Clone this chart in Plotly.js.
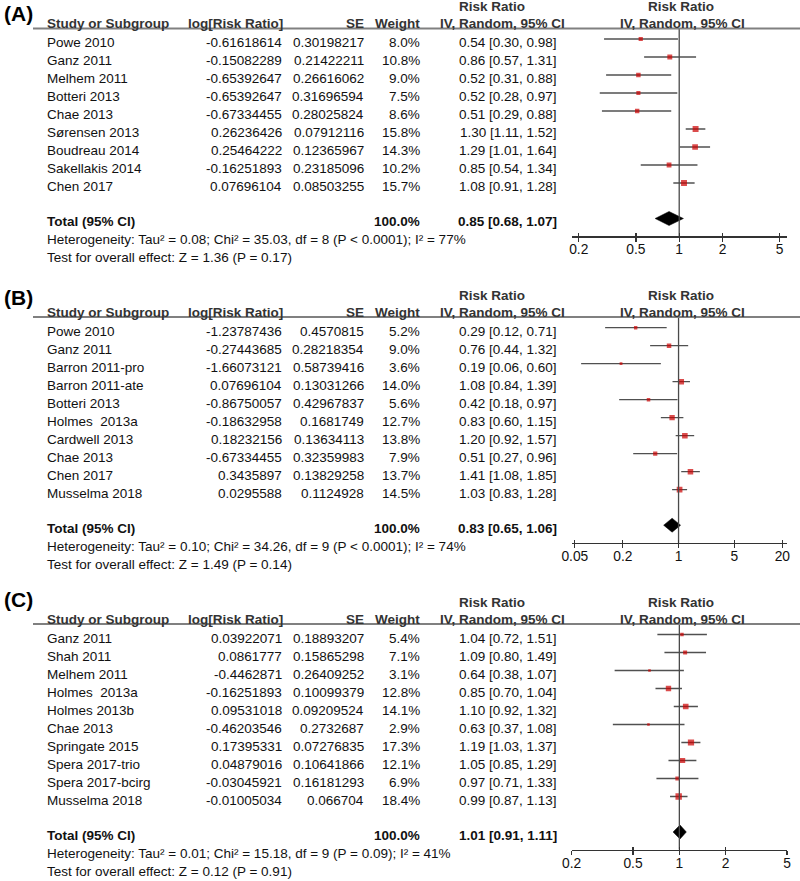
<!DOCTYPE html>
<html><head><meta charset="utf-8">
<script src="https://cdn.plot.ly/plotly-3.0.1.min.js"></script>
<style>html,body{margin:0;padding:0;background:#fff}#chart{width:800px;height:881px}</style>
</head><body><div id="chart"></div>
<script>
// ---------------- DATA ----------------
const panelLabels = ["(A)", "(B)", "(C)"];
const colHeaders = ["Study or Subgroup", "log[Risk Ratio]", "SE", "Weight", "Risk Ratio", "IV, Random, 95% CI"];
const totalLabel = "Total (95% CI)";
const totalWeight = "100.0%";

// Panel A
const studiesA = ["Powe 2010","Ganz 2011","Melhem 2011","Botteri 2013","Chae 2013","Sørensen 2013","Boudreau 2014","Sakellakis 2014","Chen 2017"];
const logRRA = [-0.61618614,-0.15082289,-0.65392647,-0.65392647,-0.67334455,0.26236426,0.25464222,-0.16251893,0.07696104];
const seA = [0.30198217,0.21422211,0.26616062,0.31696594,0.28025824,0.07912116,0.12365967,0.23185096,0.08503255];
const weightA = [8.0,10.8,9.0,7.5,8.6,15.8,14.3,10.2,15.7];
const rrA = [0.54,0.86,0.52,0.52,0.51,1.30,1.29,0.85,1.08];
const loA = [0.30,0.57,0.31,0.28,0.29,1.11,1.01,0.54,0.91];
const hiA = [0.98,1.31,0.88,0.97,0.88,1.52,1.64,1.34,1.28];
const totalA = [0.85,0.68,1.07];
const hetA = "Heterogeneity: Tau² = 0.08; Chi² = 35.03, df = 8 (P &lt; 0.0001); I² = 77%";
const testA = "Test for overall effect: Z = 1.36 (P = 0.17)";
const ticksA = [0.2,0.5,1,2,5];

// Panel B
const studiesB = ["Powe 2010","Ganz 2011","Barron 2011-pro","Barron 2011-ate","Botteri 2013","Holmes\u00a0 2013a","Cardwell 2013","Chae 2013","Chen 2017","Musselma 2018"];
const logRRB = [-1.23787436,-0.27443685,-1.66073121,0.07696104,-0.86750057,-0.18632958,0.18232156,-0.67334455,0.3435897,0.0295588];
const seB = [0.4570815,0.28218354,0.58739416,0.13031266,0.42967837,0.1681749,0.13634113,0.32359983,0.13829258,0.1124928];
const weightB = [5.2,9.0,3.6,14.0,5.6,12.7,13.8,7.9,13.7,14.5];
const rrB = [0.29,0.76,0.19,1.08,0.42,0.83,1.20,0.51,1.41,1.03];
const loB = [0.12,0.44,0.06,0.84,0.18,0.60,0.92,0.27,1.08,0.83];
const hiB = [0.71,1.32,0.60,1.39,0.97,1.15,1.57,0.96,1.85,1.28];
const totalB = [0.83,0.65,1.06];
const hetB = "Heterogeneity: Tau² = 0.10; Chi² = 34.26, df = 9 (P &lt; 0.0001); I² = 74%";
const testB = "Test for overall effect: Z = 1.49 (P = 0.14)";
const ticksB = [0.05,0.2,1,5,20];

// Panel C
const studiesC = ["Ganz 2011","Shah 2011","Melhem 2011","Holmes\u00a0 2013a","Holmes 2013b","Chae 2013","Springate 2015","Spera 2017-trio","Spera 2017-bcirg","Musselma 2018"];
const logRRC = [0.03922071,0.0861777,-0.4462871,-0.16251893,0.09531018,-0.46203546,0.17395331,0.04879016,-0.03045921,-0.01005034];
const seC = [0.18893207,0.15865298,0.26409252,0.10099379,0.09209524,0.2732687,0.07276835,0.10641866,0.16181293,0.066704];
const weightC = [5.4,7.1,3.1,12.8,14.1,2.9,17.3,12.1,6.9,18.4];
const rrC = [1.04,1.09,0.64,0.85,1.10,0.63,1.19,1.05,0.97,0.99];
const loC = [0.72,0.80,0.38,0.70,0.92,0.37,1.03,0.85,0.71,0.87];
const hiC = [1.51,1.49,1.07,1.04,1.32,1.08,1.37,1.29,1.33,1.13];
const totalC = [1.01,0.91,1.11];
const hetC = "Heterogeneity: Tau² = 0.01; Chi² = 15.18, df = 9 (P = 0.09); I² = 41%";
const testC = "Test for overall effect: Z = 0.12 (P = 0.91)";
const ticksC = [0.2,0.5,1,2,5];

// ---------------- LAYOUT CONFIG (positions in page pixels) ----------------
const W = 800, H = 881;
const STEP = 18;
const layoutCfg = [
  {row0: 39,    label: 14,  range: [-0.748, 0.75]},
  {row0: 327.7, label: 297, range: [-1.34, 1.36]},
  {row0: 634.5, label: 599, range: [-0.699, 0.699]}
];
const colX = {name: 45, log: 283.5, se: 365.5, weight: 422, ci: 559, ciHeadTop: 492, ciHead: 502.5, plotHeadTop: 680.5, plotHead: 682};
const plotX = [571.7, 787];
const FONT = "Liberation Sans, Arial, Helvetica, sans-serif";
const FS = 13.5;

const panels = [
  {studies: studiesA, logrr: logRRA, se: seA, w: weightA, rr: rrA, lo: loA, hi: hiA, total: totalA, het: hetA, test: testA, ticks: ticksA},
  {studies: studiesB, logrr: logRRB, se: seB, w: weightB, rr: rrB, lo: loB, hi: hiB, total: totalB, het: hetB, test: testB, ticks: ticksB},
  {studies: studiesC, logrr: logRRC, se: seC, w: weightC, rr: rrC, lo: loC, hi: hiC, total: totalC, het: hetC, test: testC, ticks: ticksC}
];

const fmtCI = (e, l, h) => e.toFixed(2) + " [" + l.toFixed(2) + ", " + h.toFixed(2) + "]";
const py = px => 1 - px / H;

const traces = [], annotations = [], shapes = [];
const layout = {
  width: W, height: H, margin: {l: 0, r: 0, t: 0, b: 0},
  paper_bgcolor: "#fff", plot_bgcolor: "rgba(0,0,0,0)",
  showlegend: false, font: {family: FONT, size: FS, color: "#111"},
  annotations: annotations, shapes: shapes
};

panels.forEach((p, k) => {
  const cfg = layoutCfg[k];
  const n = p.studies.length;
  const sfx = k === 0 ? "" : String(k + 1);
  const xa = "x" + sfx, ya = "y" + sfx;
  const ova = "x" + String(k + 4);
  const underline = cfg.row0 - 10.6;
  const axisY = cfg.row0 + STEP * n + 35.3;
  const rowY = i => cfg.row0 + STEP * i;
  const txtOff = 3.7;
  const totalTxt = cfg.row0 + STEP * n + 20.5;
  const diamondY = cfg.row0 + STEP * n + 17.5;
  const headY = cfg.row0 - 15.5;
  const headTopY = cfg.row0 - 32.3;

  layout["yaxis" + sfx] = {
    domain: [py(axisY), py(underline)], range: [axisY, underline],
    visible: false, fixedrange: true, anchor: xa
  };
  layout["xaxis" + sfx] = {
    type: "log", domain: [plotX[0] / W, plotX[1] / W], range: cfg.range, anchor: ya,
    showgrid: false, zeroline: false, showline: true, linecolor: "#333", linewidth: 1.3,
    ticks: "outside", ticklen: 4, tickwidth: 1.3, tickcolor: "#333",
    tickvals: p.ticks, ticktext: p.ticks.map(String), ticklabelstandoff: -4,
    tickfont: {family: FONT, size: 13.8, color: "#111"}, fixedrange: true
  };
  layout["xaxis" + String(k + 4)] = {
    type: "log", overlaying: xa, matches: xa, anchor: ya, range: cfg.range,
    showgrid: false, zeroline: false, showline: false,
    ticks: "inside", ticklen: 3, tickwidth: 1.3, tickcolor: "#333",
    tickvals: p.ticks, showticklabels: false, fixedrange: true
  };

  // null line at RR = 1
  traces.push({x: [1, 1], y: [underline, axisY], xaxis: ova, yaxis: ya, mode: "lines",
    line: {color: "#4a4a4a", width: 1.3}, hoverinfo: "skip"});

  // CI whiskers
  const cx = [], cy = [];
  p.lo.forEach((l, i) => { cx.push(l, p.hi[i], null); cy.push(rowY(i), rowY(i), null); });
  traces.push({x: cx, y: cy, xaxis: xa, yaxis: ya, mode: "lines",
    line: {color: "#505050", width: 1.3}, hoverinfo: "skip"});

  // study squares, area proportional to weight
  traces.push({x: p.rr, y: p.rr.map((_, i) => rowY(i)), xaxis: xa, yaxis: ya, mode: "markers",
    marker: {symbol: "square", color: "#cc0000", size: p.w.map(v => 1.5 * Math.sqrt(v)), line: {width: 0}},
    hoverinfo: "skip"});

  // pooled diamond
  const [te, tl, th] = p.total;
  const dh = 7;
  traces.push({x: [tl, te, th, te, tl], y: [diamondY, diamondY - dh, diamondY, diamondY + dh, diamondY],
    xaxis: xa, yaxis: ya, mode: "lines", fill: "toself", fillcolor: "#000",
    line: {color: "#000", width: 0.5}, hoverinfo: "skip"});

  // header underline
  shapes.push({type: "line", xref: "paper", yref: "paper", x0: 33 / W, x1: 1, y0: py(underline), y1: py(underline),
    line: {color: "#808080", width: 2}});

  const ann = (text, x, ypx, anchor, opts) => annotations.push(Object.assign({
    text: text, x: x / W, y: py(ypx), xref: "paper", yref: "paper", xanchor: anchor, yanchor: "middle",
    showarrow: false, font: {family: FONT, size: FS, color: "#111"}
  }, opts || {}));
  const hfont = {family: FONT, size: FS, color: "#333"};

  // panel label
  ann("<b>" + panelLabels[k] + "</b>", 2, cfg.label, "left", {font: {family: FONT, size: 21, color: "#000"}});

  // headers
  ann("<b>" + colHeaders[0] + "</b>", colX.name, headY, "left", {font: hfont});
  ann("<b>" + colHeaders[1] + "</b>", colX.log + 1.5, headY, "right", {font: hfont});
  ann("<b>" + colHeaders[2] + "</b>", colX.se, headY, "right", {font: hfont});
  ann("<b>" + colHeaders[3] + "</b>", colX.weight, headY, "right", {font: hfont});
  ann("<b>" + colHeaders[4] + "</b>", colX.ciHeadTop, headTopY, "center", {font: hfont});
  ann("<b>" + colHeaders[5] + "</b>", colX.ciHead, headY, "center", {font: hfont});
  ann("<b>" + colHeaders[4] + "</b>", colX.plotHeadTop, headTopY, "center", {font: hfont});
  ann("<b>" + colHeaders[5] + "</b>", colX.plotHead, headY, "center", {font: hfont});

  // rows
  p.studies.forEach((s, i) => {
    const y = rowY(i) + txtOff;
    ann(s, colX.name, y, "left");
    ann(String(p.logrr[i]), colX.log, y, "right");
    ann(String(p.se[i]), colX.se, y, "right");
    ann(p.w[i].toFixed(1) + "%", colX.weight, y, "right");
    ann(fmtCI(p.rr[i], p.lo[i], p.hi[i]), colX.ci, y, "right");
  });

  // totals
  const bf = {family: FONT, size: FS, color: "#111"};
  ann("<b>" + totalLabel + "</b>", colX.name, totalTxt, "left", {font: bf});
  ann("<b>" + totalWeight + "</b>", colX.weight, totalTxt, "right", {font: bf});
  ann("<b>" + fmtCI(te, tl, th) + "</b>", colX.ci, totalTxt, "right", {font: bf});
  ann(p.het, colX.name, totalTxt + STEP, "left");
  ann(p.test, colX.name, totalTxt + 2 * STEP, "left");
});

Plotly.newPlot("chart", traces, layout, {staticPlot: true, displayModeBar: false});
</script>
</body></html>
